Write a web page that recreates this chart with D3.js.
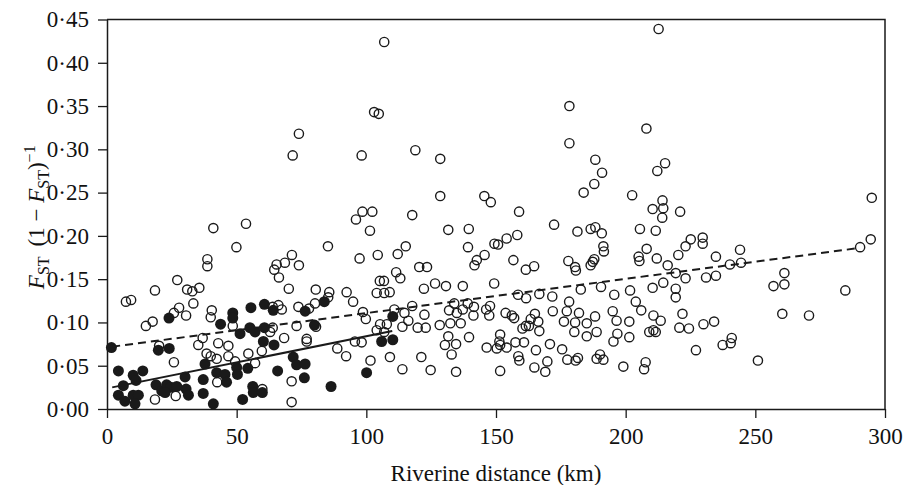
<!DOCTYPE html>
<html>
<head>
<meta charset="utf-8">
<script src="https://cdn.jsdelivr.net/npm/d3@7"></script>
<style>
  html, body { margin: 0; padding: 0; background: #fff; }
  svg { display: block; }
  text { font-family: "Liberation Serif", "Times New Roman", serif; fill: #111; }
</style>
</head>
<body>
<svg id="chart" width="909" height="485"></svg>
<script>
// ---------- data ----------
const xTicks = [0, 50, 100, 150, 200, 250, 300];
const yTicks = [0, 0.05, 0.10, 0.15, 0.20, 0.25, 0.30, 0.35, 0.40, 0.45];
const xLabel = "Riverine distance (km)";

// filled circles (within-drainage pairs)
const filledDist = [1.7, 23.9, 48.5, 48.5, 55.5, 60.7, 64.1, 43.8, 51.3, 55.1, 57.1, 60.7, 60.3, 64.4,
  19.8, 24.0, 37.8, 50.0, 50.3, 54.3, 65.8, 71.8, 73.1, 4.4, 6.3, 10.1, 11.2, 13.8, 4.4, 6.9, 10.1,
  12.1, 10.8, 18.9, 21.1, 23.0, 24.6, 26.9, 22.4, 30.1, 30.5, 31.4, 37.1, 37.1, 41.0, 42.3, 45.5,
  46.1, 52.3, 56.2, 56.4, 59.9, 76.4, 76.1, 76.4, 80.0, 83.8, 110.2, 105.9, 110.2, 100.1, 86.4];
const filledFst = [0.071, 0.105, 0.111, 0.105, 0.117, 0.121, 0.114, 0.098, 0.087, 0.094, 0.089, 0.094, 0.078, 0.074,
  0.068, 0.070, 0.052, 0.048, 0.040, 0.047, 0.044, 0.060, 0.051, 0.044, 0.027, 0.039, 0.033, 0.044, 0.016, 0.009, 0.016,
  0.016, 0.006, 0.028, 0.021, 0.028, 0.025, 0.026, 0.019, 0.037, 0.023, 0.016, 0.034, 0.018, 0.006, 0.042, 0.040,
  0.031, 0.011, 0.026, 0.019, 0.019, 0.052, 0.036, 0.113, 0.097, 0.124, 0.107, 0.078, 0.080, 0.042, 0.026];

// open circles (all other pairs)
const openDist = [74.0, 71.6, 106.9, 103.0, 104.8, 98.2, 118.9, 128.5, 128.5, 145.5, 148.0,
  96.0, 98.5, 102.3, 117.7, 101.4, 85.2, 74.0, 97.4, 104.4, 112.1, 115.2, 111.5, 113.1, 105.2, 106.8,
  120.4, 123.4, 131.6, 139.5, 139.2, 145.6, 142.6, 141.7, 149.4, 149.3, 126.5, 130.7, 137.2, 122.2,
  104.0, 106.9, 109.0, 80.5, 85.7, 92.4, 94.9, 85.3, 80.2, 77.9, 73.8, 98.7, 99.8, 110.8, 114.7, 116.2,
  113.9, 117.7, 122.4, 119.8, 122.9, 128.3, 132.4, 136.4, 131.9, 133.9, 134.9, 137.2, 139.1, 141.5,
  141.3, 146.2, 147.7, 147.4, 105.3, 107.9, 106.9, 104.0, 95.6, 98.2, 88.8, 92.2, 101.6, 109.1, 113.9,
  121.2, 124.8, 130.3, 131.6, 134.6, 132.9, 139.6, 134.6, 146.4, 77.0, 77.0, 80.6,
  41.0, 53.6, 49.9, 71.3, 38.7, 38.7, 65.4, 68.6, 64.5, 66.3, 70.1, 27.1, 30.9, 32.9, 35.6, 33.3, 18.5,
  7.3, 9.3, 15.0, 17.6, 25.8, 27.8, 30.5, 40.4, 40.0, 63.9, 66.1, 67.4, 48.5, 63.9, 62.9, 68.3, 73.1,
  36.9, 35.2, 42.9, 46.8, 46.8, 38.4, 40.0, 42.3, 54.5, 59.7, 57.1, 49.4, 20.1, 25.8, 59.9, 71.2, 71.2,
  18.5, 26.5, 42.5,
  212.7, 178.3, 178.3, 208.0, 188.3, 190.9, 187.9, 183.8, 202.5, 215.2, 212.2, 214.2, 210.4, 214.5,
  221.0, 158.9, 172.4, 214.1, 181.4, 186.5, 188.3, 190.8, 191.4, 191.6, 205.5, 211.6, 208.1, 205.0,
  205.3, 212.0, 220.3, 223.1, 216.2, 219.3, 223.1, 214.5, 210.4, 219.3, 219.3, 150.8, 154.1, 158.2,
  156.7, 161.5, 164.7, 177.9, 180.5, 180.8, 186.5, 187.3, 187.9, 158.5, 161.6, 166.7, 171.7, 178.2,
  182.7, 190.5, 195.6, 201.7, 203.9, 206.0, 210.7, 213.5, 209.1, 210.7, 211.6, 220.7, 224.4, 221.9,
  171.9, 177.3, 182.0, 188.2, 195.0, 196.5, 201.4, 185.0, 180.5, 176.2, 180.2, 185.0, 188.8, 196.8,
  195.3, 201.4, 153.7, 156.1, 157.0, 163.4, 165.0, 166.3, 160.2, 161.5, 162.7, 166.7, 151.6, 151.3,
  151.6, 150.3, 154.1, 157.5, 160.8, 165.4, 170.8, 175.5, 158.6, 159.0, 164.8, 169.0, 169.8, 177.5,
  180.7, 181.6, 188.8, 190.1, 191.4, 199.1, 207.7, 207.1, 151.6,
  225.1, 229.7, 229.7, 244.1, 234.8, 240.2, 244.5, 231.0, 234.8, 257.0, 261.2, 261.2, 284.7, 290.4,
  294.5, 230.0, 234.1, 260.4, 270.7, 227.1, 237.4, 240.5, 240.9, 251.0, 294.9];
const openFst = [0.318, 0.293, 0.424, 0.343, 0.341, 0.293, 0.299, 0.289, 0.246, 0.246, 0.239,
  0.219, 0.228, 0.228, 0.224, 0.206, 0.188, 0.166, 0.174, 0.178, 0.179, 0.188, 0.158, 0.151, 0.148, 0.148,
  0.164, 0.164, 0.207, 0.208, 0.187, 0.178, 0.172, 0.166, 0.191, 0.145, 0.145, 0.142, 0.142, 0.139,
  0.134, 0.134, 0.135, 0.138, 0.135, 0.135, 0.124, 0.129, 0.122, 0.116, 0.118, 0.112, 0.104, 0.115, 0.111, 0.102,
  0.095, 0.119, 0.109, 0.094, 0.094, 0.097, 0.099, 0.099, 0.114, 0.122, 0.111, 0.115, 0.122, 0.118,
  0.108, 0.115, 0.119, 0.108, 0.098, 0.098, 0.089, 0.091, 0.078, 0.077, 0.070, 0.061, 0.056, 0.060, 0.046,
  0.060, 0.045, 0.074, 0.084, 0.075, 0.063, 0.083, 0.043, 0.071, 0.081, 0.078, 0.095,
  0.209, 0.214, 0.187, 0.178, 0.173, 0.165, 0.167, 0.169, 0.161, 0.152, 0.139, 0.149, 0.138, 0.136, 0.140, 0.122, 0.137,
  0.124, 0.126, 0.096, 0.101, 0.111, 0.117, 0.108, 0.114, 0.106, 0.118, 0.120, 0.115, 0.096, 0.094, 0.089, 0.082, 0.096,
  0.082, 0.074, 0.076, 0.073, 0.061, 0.064, 0.061, 0.058, 0.064, 0.067, 0.053, 0.055, 0.073, 0.054, 0.023, 0.032, 0.008,
  0.011, 0.015, 0.031,
  0.439, 0.350, 0.307, 0.324, 0.288, 0.273, 0.260, 0.250, 0.247, 0.284, 0.275, 0.241, 0.231, 0.232,
  0.228, 0.228, 0.213, 0.221, 0.205, 0.208, 0.210, 0.203, 0.188, 0.182, 0.208, 0.206, 0.185, 0.176,
  0.171, 0.174, 0.178, 0.188, 0.166, 0.157, 0.151, 0.146, 0.140, 0.139, 0.129, 0.190, 0.197, 0.201,
  0.172, 0.161, 0.165, 0.171, 0.164, 0.160, 0.166, 0.170, 0.173, 0.132, 0.128, 0.133, 0.130, 0.124,
  0.138, 0.141, 0.132, 0.137, 0.124, 0.114, 0.108, 0.102, 0.089, 0.091, 0.089, 0.094, 0.093, 0.110,
  0.113, 0.113, 0.111, 0.107, 0.113, 0.102, 0.101, 0.099, 0.100, 0.101, 0.089, 0.084, 0.089, 0.087,
  0.078, 0.083, 0.111, 0.108, 0.105, 0.104, 0.110, 0.101, 0.093, 0.096, 0.096, 0.090, 0.086, 0.078,
  0.074, 0.070, 0.071, 0.077, 0.077, 0.068, 0.075, 0.069, 0.061, 0.056, 0.048, 0.043, 0.055, 0.057,
  0.056, 0.059, 0.058, 0.063, 0.057, 0.049, 0.054, 0.046, 0.044,
  0.196, 0.198, 0.191, 0.184, 0.176, 0.167, 0.169, 0.152, 0.154, 0.142, 0.144, 0.157, 0.137, 0.187,
  0.196, 0.098, 0.101, 0.110, 0.108, 0.068, 0.074, 0.076, 0.082, 0.056, 0.244];

// regression lines (end points)
const dashedDist = [2, 290];
const dashedFst = [0.072, 0.186];
const solidDist = [2, 110];
const solidFst = [0.025, 0.090];

// ---------- drawing ----------
const svg = d3.select("#chart");
const margin = {left: 107, top: 19.5, right: 24, bottom: 76};
const W = 909, H = 485;
const x = d3.scaleLinear().domain([0, 300]).range([margin.left, W - margin.right]);
const y = d3.scaleLinear().domain([0, 0.45]).range([H - margin.bottom, margin.top]);

const ink = "#1a1a1a";
const fmtY = d => d3.format(".2f")(d).replace(".", "\u00B7");
const FS = "23px";

// frame (top & right)
svg.append("path")
  .attr("d", `M${x(0)},${y(0.45)}H${x(300)}V${y(0)}`)
  .attr("fill", "none").attr("stroke", ink).attr("stroke-width", 1.5);

// x axis
const gx = svg.append("g").attr("transform", `translate(0,${y(0)})`)
  .call(d3.axisBottom(x).tickValues(xTicks).tickSize(9).tickPadding(10).tickSizeOuter(0));
// y axis
const gy = svg.append("g").attr("transform", `translate(${x(0)},0)`)
  .call(d3.axisLeft(y).tickValues(yTicks).tickFormat(fmtY).tickSize(9).tickPadding(9).tickSizeOuter(0));

[gx, gy].forEach(g => {
  g.select(".domain").attr("stroke", ink).attr("stroke-width", 1.5);
  g.selectAll(".tick line").attr("stroke", ink).attr("stroke-width", 1.3);
  g.selectAll(".tick text").attr("fill", "#111")
    .style("font-family", '"Liberation Serif", "Times New Roman", serif')
    .style("font-size", FS);
});

// open circles
const openData = openDist.map((d, i) => [d, openFst[i]]);
svg.append("g").selectAll("circle").data(openData).join("circle")
  .attr("cx", d => x(d[0])).attr("cy", d => y(d[1])).attr("r", 4.6)
  .attr("fill", "none").attr("stroke", ink).attr("stroke-width", 1.4);

// filled circles
const filledData = filledDist.map((d, i) => [d, filledFst[i]]);
svg.append("g").selectAll("circle").data(filledData).join("circle")
  .attr("cx", d => x(d[0])).attr("cy", d => y(d[1])).attr("r", 5.5)
  .attr("fill", ink).attr("stroke", "none");

// regression lines
const line = d3.line().x(d => x(d[0])).y(d => y(d[1]));
svg.append("path").datum(dashedDist.map((d, i) => [d, dashedFst[i]]))
  .attr("d", line).attr("fill", "none").attr("stroke", ink)
  .attr("stroke-width", 2).attr("stroke-dasharray", "8,5");
svg.append("path").datum(solidDist.map((d, i) => [d, solidFst[i]]))
  .attr("d", line).attr("fill", "none").attr("stroke", ink).attr("stroke-width", 2);

// x label
svg.append("text").attr("x", (x(0) + x(300)) / 2).attr("y", 481)
  .attr("text-anchor", "middle").style("font-size", FS).text(xLabel);

// y label: F_ST (1 − F_ST)^−1
const yl = svg.append("text")
  .attr("transform", `translate(44,${(y(0) + y(0.45)) / 2 + 3}) rotate(-90)`)
  .attr("text-anchor", "middle").style("font-size", FS);
yl.append("tspan").style("font-style", "italic").text("F");
yl.append("tspan").attr("dy", 5).style("font-size", "16px").text("ST");
yl.append("tspan").attr("dy", -5).attr("dx", 10).text("(1 \u2212 ");
yl.append("tspan").style("font-style", "italic").text("F");
yl.append("tspan").attr("dy", 5).style("font-size", "16px").text("ST");
yl.append("tspan").attr("dy", -5).text(")");
yl.append("tspan").attr("dy", -9).style("font-size", "16px").text("\u22121");
</script>
</body>
</html>
